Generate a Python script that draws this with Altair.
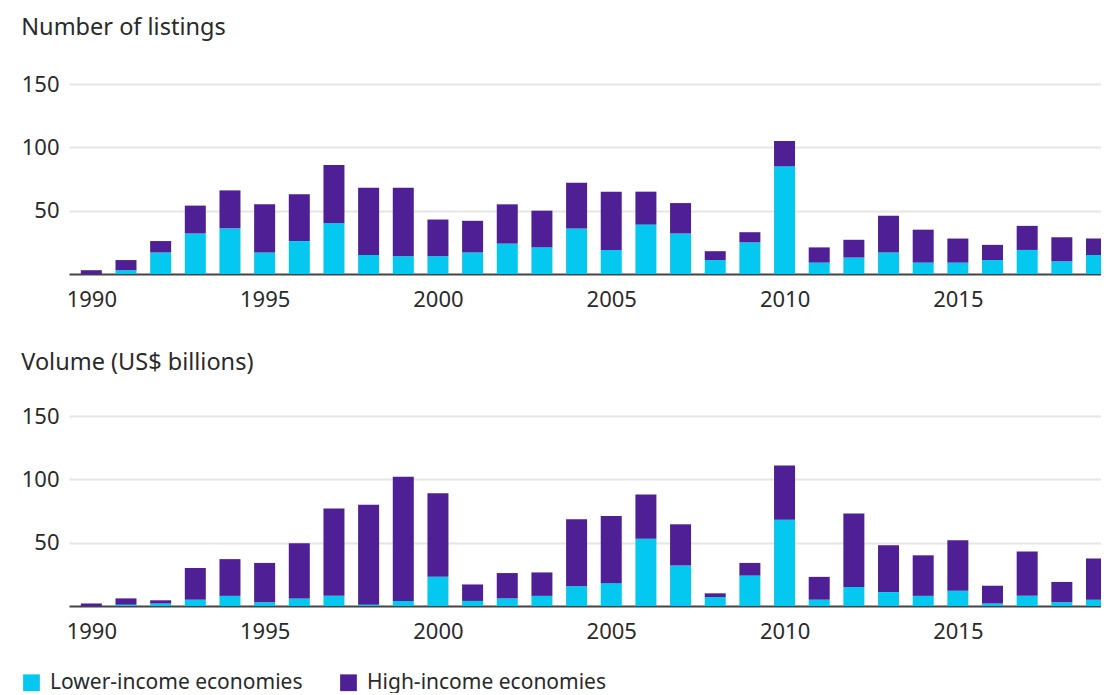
import altair as alt
import pandas as pd

years = list(range(1990, 2020))
groups = ["Lower-income economies", "High-income economies"]
colors = ["#05C8F0", "#4F1F96"]

listings_lower = [0, 3, 17, 32, 36, 17, 26, 40, 15, 14, 14, 17, 24, 21, 36,
                  19, 39, 32, 11, 25, 85, 9, 13, 17, 9, 9, 11, 19, 10, 15]
listings_high = [3, 8, 9, 22, 30, 38, 37, 46, 53, 54, 29, 25, 31, 29, 36,
                 46, 26, 24, 7, 8, 20, 12, 14, 29, 26, 19, 12, 19, 19, 13]

volume_lower = [0, 1, 2, 5, 8, 3, 6, 8, 1, 4, 23, 4, 6, 8, 15.5,
                18, 53, 32, 7, 24, 68, 5, 15, 11, 8, 12, 2, 8, 3, 5]
volume_high = [2, 5, 2.5, 25, 29, 31, 43.5, 69, 79, 98, 66, 13, 20, 18.5, 53,
               53, 35, 32.5, 3, 10, 43, 18, 58, 37, 32, 40, 14, 35, 16, 32.5]

x_ticks = [1990, 1995, 2000, 2005, 2010, 2015]
y_ticks = [50, 100, 150]

FONT = "Noto Sans"
TEXT = "#2a2a2a"
PLOT_W = 1032
STEP = 35
X_MIN = 1989.5
X_MAX = X_MIN + PLOT_W / STEP


def make_df(lower, high):
    rows = []
    for y, lo, hi in zip(years, lower, high):
        rows.append({"year": y, "group": groups[0], "value": lo, "ord": 0})
        rows.append({"year": y, "group": groups[1], "value": hi, "ord": 1})
    return pd.DataFrame(rows)


def panel(title, lower, high, offset):
    return alt.Chart(make_df(lower, high)).mark_bar(width=21, clip=True).encode(
        x=alt.X("year:Q",
                scale=alt.Scale(domain=[X_MIN, X_MAX], nice=False, zero=False),
                axis=alt.Axis(values=x_ticks, format="d", title=None, grid=False,
                              ticks=False, tickSize=0, labelPadding=15,
                              domainColor="#444444", domainWidth=2,
                              labelFlush=False)),
        y=alt.Y("value:Q", stack="zero",
                scale=alt.Scale(domain=[0, 150], nice=False),
                axis=alt.Axis(values=y_ticks, title=None, domain=False, ticks=False,
                              tickSize=0, labelPadding=10, gridColor="#e6e6e6",
                              gridWidth=2)),
        color=alt.Color("group:N",
                        scale=alt.Scale(domain=groups, range=colors),
                        legend=alt.Legend(title=None, orient="none", direction="horizontal",
                                          legendX=-48, legendY=588,
                                          symbolType="square", symbolSize=280,
                                          symbolStrokeWidth=0, labelOffset=8,
                                          columnPadding=35, labelFontSize=21,
                                          labelFont=FONT, labelColor=TEXT,
                                          labelLimit=400)),
        order=alt.Order("ord:Q"),
    ).properties(
        width=PLOT_W, height=190,
        title=alt.TitleParams(title, anchor="start", frame="bounds", offset=offset,
                              fontSize=23.5, font=FONT, fontWeight="normal", color=TEXT),
    )


top = panel("Number of listings", listings_lower, listings_high, 34)
bottom = panel("Volume (US$ billions)", volume_lower, volume_high, 31)

chart = alt.vconcat(top, bottom, spacing=40).configure(
    padding={"left": 13, "top": 7, "right": 0, "bottom": 0},
    font=FONT,
).configure_view(stroke=None).configure_axis(
    labelFont=FONT, labelFontSize=22, labelColor=TEXT,
)

chart.save("out.html", embed_options={"renderer": "svg", "actions": False})
